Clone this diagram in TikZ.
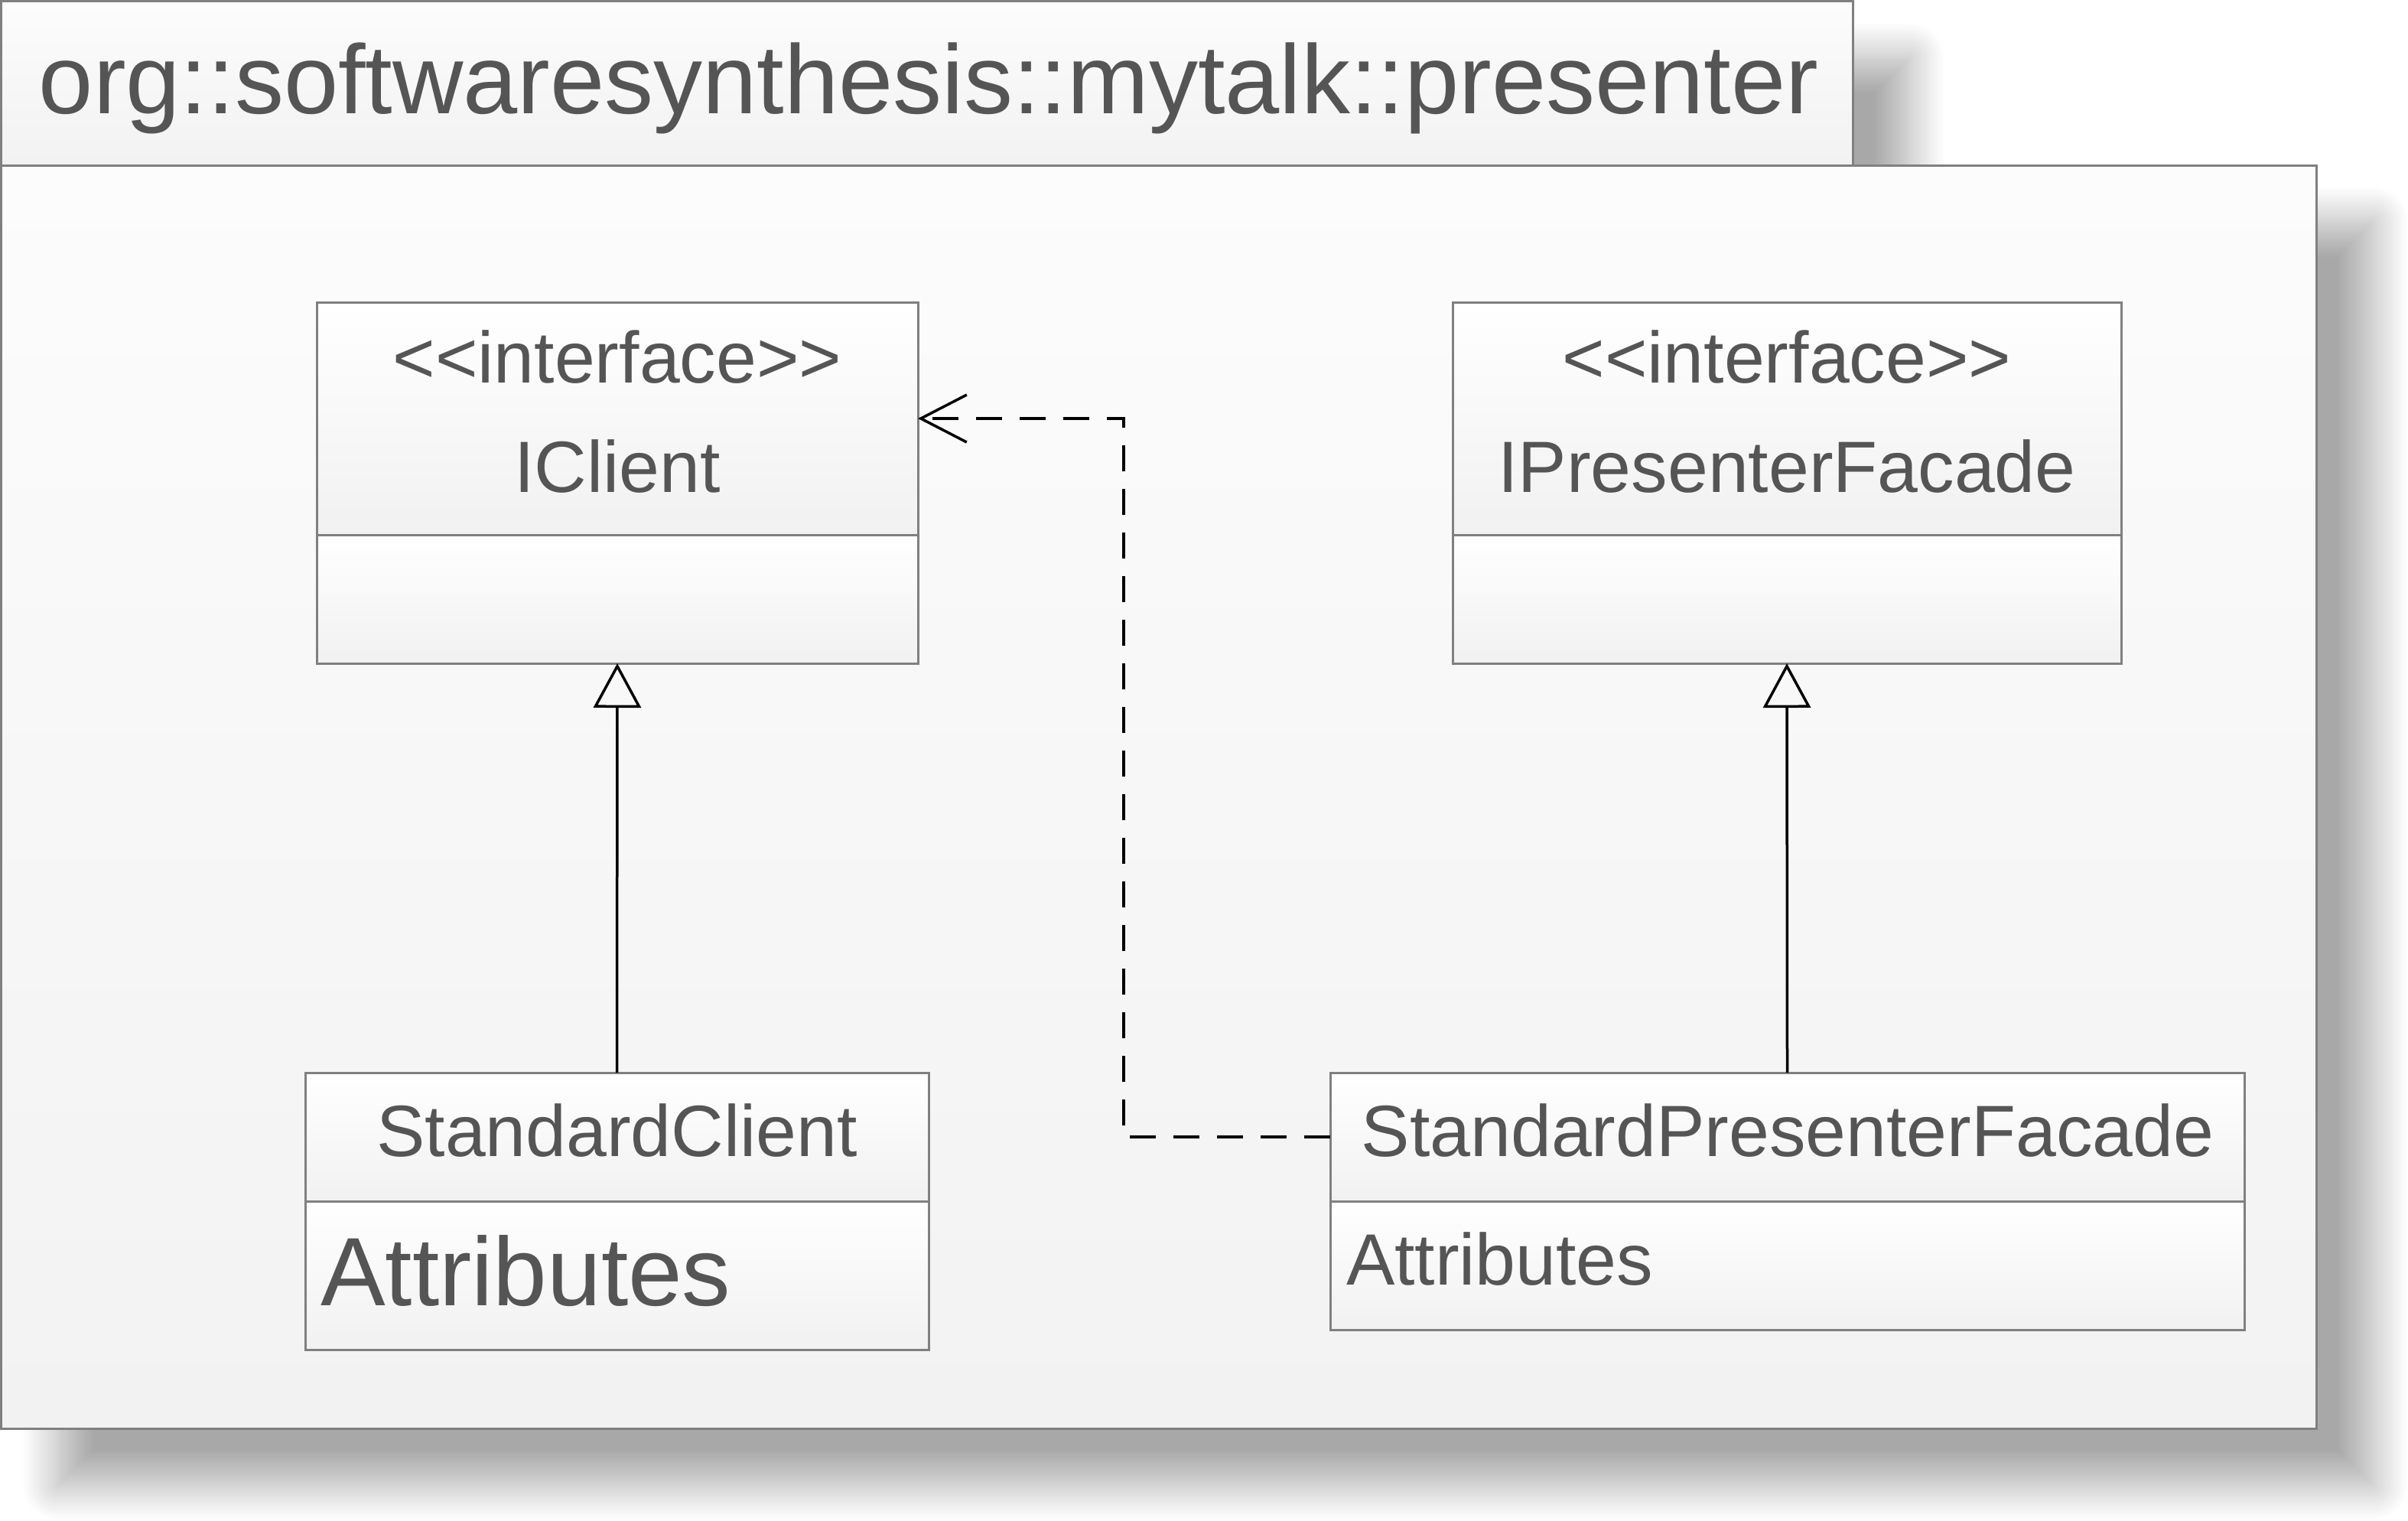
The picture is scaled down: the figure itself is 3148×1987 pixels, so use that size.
\documentclass[tikz,border=0pt]{standalone}
\usepackage{fontspec}
\newfontfamily\umlfont{Liberation Sans}
\usetikzlibrary{arrows.meta,shadows.blur}
\definecolor{txtgray}{HTML}{555555}
\definecolor{framegray}{HTML}{808080}
\definecolor{pkgtop}{HTML}{FCFCFC}
\definecolor{pkgbot}{HTML}{F2F2F2}
\definecolor{boxbot}{HTML}{F1F1F1}
\begin{document}
\begin{tikzpicture}[x=1pt,y=-1pt,
  pkgshadow/.style={blur shadow={shadow xshift=74pt, shadow yshift=-74pt, shadow blur radius=46pt, shadow opacity=34, shadow blur steps=24}},
  pkgpart/.style={draw=framegray, line width=3pt, top color=pkgtop, bottom color=pkgbot, inner sep=0pt, outer sep=0pt, anchor=north west},
  compart/.style={draw=framegray, line width=3pt, top color=white, bottom color=boxbot, inner sep=0pt, outer sep=0pt, anchor=north west},
  lbl/.style={text=txtgray, inner sep=0pt, outer sep=0pt, font=\umlfont\fontsize{95pt}{100pt}\selectfont},
  biglbl/.style={text=txtgray, inner sep=0pt, outer sep=0pt, font=\umlfont\fontsize{127pt}{132pt}\selectfont},
  titlelbl/.style={text=txtgray, inner sep=0pt, outer sep=0pt, font=\umlfont\fontsize{128pt}{133pt}\selectfont},
  gen/.style={draw=black, line width=3.5pt, -{Triangle[open, length=58pt, width=62pt, line width=3.5pt]}},
  dep/.style={draw=black, line width=3.5pt, dash pattern=on 34pt off 23pt, -{Straight Barb[length=60pt, width=62pt, line width=3.5pt]}}
]
\useasboundingbox (0,0) rectangle (3148,1987);
% package
\node[pkgpart, pkgshadow, minimum width=2420.5pt, minimum height=214.5pt] (pkgtab) at (1.5,1.5) {};
\node[pkgpart, pkgshadow, minimum width=3026.5pt, minimum height=1651pt] (pkgbody) at (1.5,216) {};
\node[titlelbl, anchor=base] (title) at (1214,148) {org::softwaresynthesis::mytalk::presenter};
% IClient
\node[compart, minimum width=786pt, minimum height=304pt] (icT) at (414,395) {};
\node[compart, minimum width=786pt, minimum height=168pt] (icB) at (414,699) {};
\node[lbl, anchor=base] (icS) at (807,500) {<<interface>>};
\node[lbl, anchor=base] (icN) at (807,643) {IClient};
% IPresenterFacade
\node[compart, minimum width=874pt, minimum height=304pt] (ipT) at (1899,395) {};
\node[compart, minimum width=874pt, minimum height=168pt] (ipB) at (1899,699) {};
\node[lbl, anchor=base] (ipS) at (2336,500) {<<interface>>};
\node[lbl, anchor=base] (ipN) at (2336,643) {IPresenterFacade};
% StandardClient
\node[compart, minimum width=815pt, minimum height=168pt] (scT) at (399,1402) {};
\node[compart, minimum width=815pt, minimum height=194pt] (scB) at (399,1570) {};
\node[lbl, anchor=base] (scN) at (806.5,1511) {StandardClient};
\node[biglbl, anchor=base west] (scA) at (419,1706) {Attributes};
% StandardPresenterFacade
\node[compart, minimum width=1195pt, minimum height=168pt] (spT) at (1739,1402) {};
\node[compart, minimum width=1195pt, minimum height=168pt] (spB) at (1739,1570) {};
\node[lbl, anchor=base] (spN) at (2337,1511) {StandardPresenterFacade};
\node[lbl, anchor=base west] (spA) at (1760,1679) {Attributes};
% connectors
\draw[gen] (scT.north) -- (icB.south);
\draw[gen] (spT.north) -- (ipB.south);
\coordinate (dbend) at (1469,1486);
\draw[dep] (spT.west) -- (dbend) |- (icT.east);
\end{tikzpicture}
\end{document}
